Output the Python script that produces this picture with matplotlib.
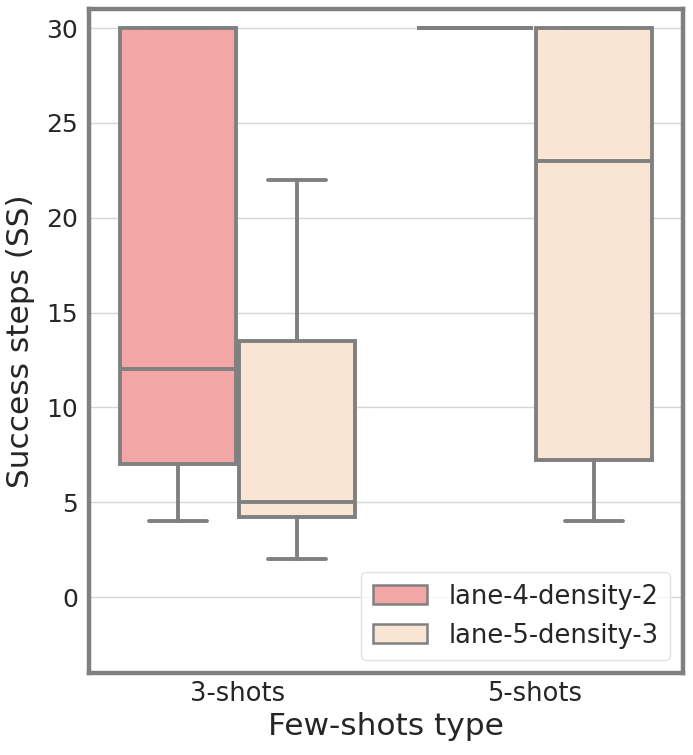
import numpy as np
import matplotlib
matplotlib.use("Agg")
import matplotlib.pyplot as plt
from matplotlib.patches import Patch

# Box statistics
categories = ["3-shots", "5-shots"]
series = ["lane-4-density-2", "lane-5-density-3"]
colors = ["#f2a6a6", "#f8e5d3"]

whislo = [[4, 30], [2, 4]]
q1 = [[7, 30], [4.25, 7.25]]
med = [[12, 30], [5, 23]]
q3 = [[30, 30], [13.5, 30]]
whishi = [[30, 30], [22, 30]]

edge = "#808080"
lw = 2.8

fig = plt.figure(figsize=(6.93, 7.55), dpi=100)
ax = fig.add_axes([0.1284, 0.1086, 0.8572, 0.8794])

ax.yaxis.grid(True, color="#d6d6d6", linewidth=1.0)
ax.set_axisbelow(True)

offsets = [-0.2, 0.2]
width = 0.392
for s in range(len(series)):
    stats = []
    for c in range(len(categories)):
        stats.append(dict(med=med[s][c], q1=q1[s][c], q3=q3[s][c],
                          whislo=whislo[s][c], whishi=whishi[s][c], fliers=[]))
    pos = np.arange(len(categories)) + offsets[s]
    ax.bxp(stats, positions=pos, widths=width, patch_artist=True,
           showfliers=False, manage_ticks=False,
           boxprops=dict(facecolor=colors[s], edgecolor=edge, linewidth=lw),
           whiskerprops=dict(color=edge, linewidth=lw),
           capprops=dict(color=edge, linewidth=lw, solid_capstyle="round"),
           medianprops=dict(color=edge, linewidth=lw))

ax.set_xlim(-0.5, 1.5)
ax.set_ylim(-4, 31)
ax.set_xticks(np.arange(len(categories)))
ax.set_xticklabels(categories, fontsize=18.5)
ax.set_yticks([0, 5, 10, 15, 20, 25, 30])
ax.tick_params(axis="y", labelsize=18, length=0, pad=8, colors="#262626")
ax.tick_params(axis="x", length=0, pad=6, colors="#262626")
for sp in ax.spines.values():
    sp.set_color(edge)
    sp.set_linewidth(3.2)

ax.set_xlabel("Few-shots type", fontsize=22.5, color="#262626", labelpad=3)
ax.set_ylabel("Success steps (SS)", fontsize=22.5, color="#262626", labelpad=8)

handles = [Patch(facecolor=colors[i], edgecolor=edge, linewidth=1.8, label=series[i])
           for i in range(len(series))]
leg = ax.legend(handles=handles, loc="lower right", fontsize=18.5,
                frameon=True, fancybox=True, handlelength=2.1, handleheight=0.75,
                borderpad=0.45, labelspacing=0.5, handletextpad=0.85)
leg.get_frame().set_edgecolor("#dddddd")
for t in leg.get_texts():
    t.set_color("#262626")

fig.savefig("out.png", dpi=100)
